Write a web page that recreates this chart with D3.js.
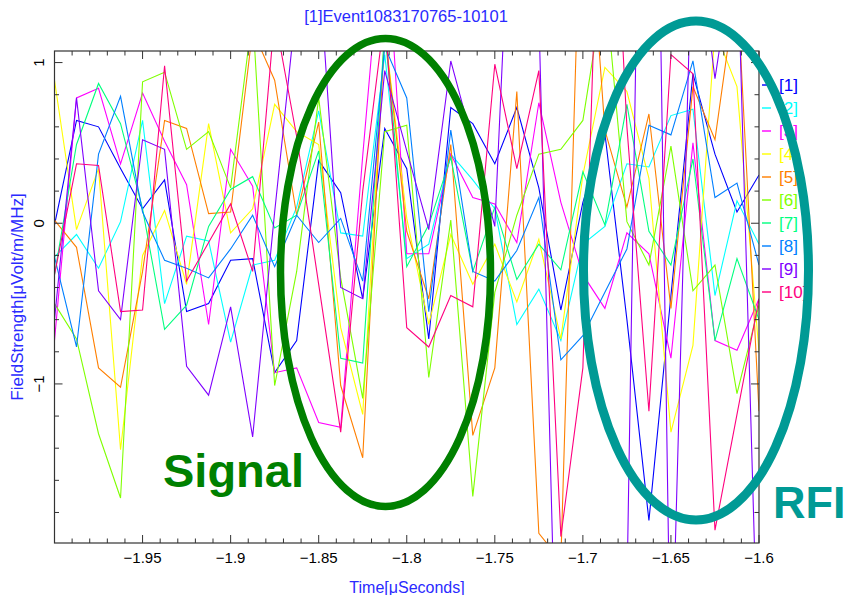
<!DOCTYPE html>
<html><head><meta charset="utf-8">
<script src="https://cdn.jsdelivr.net/npm/d3@7"></script>
<style>
body{margin:0;background:#fff}
text{font-family:"Liberation Sans", Arial, sans-serif}
</style>
</head><body>
<svg id="c" width="848" height="595"></svg>
<script>
const title = "[1]Event1083170765-10101";
const xTitle = "Time[\u03bcSeconds]";
const yTitle = "FieldStrength[\u03bcVolt/m/MHz]";
const times = [-2.0,-1.9875,-1.975,-1.9625,-1.95,-1.9375,-1.925,-1.9125,-1.9,-1.8875,-1.875,-1.8625,-1.85,-1.8375,-1.825,-1.8125,-1.8,-1.7875,-1.775,-1.7625,-1.75,-1.7375,-1.725,-1.7125,-1.7,-1.6875,-1.675,-1.6625,-1.65,-1.6375,-1.625,-1.6125,-1.6];
const s1 = [-0.01,0.64,0.60,0.34,0.09,0.27,-0.55,-0.50,-0.23,-0.22,-0.93,-0.73,0.39,0.19,-0.47,0.59,0.34,-0.72,0.72,0.62,0.37,0.72,0.22,-0.54,0.13,0.56,-0.60,-1.85,-0.45,0.93,0.43,0.07,0.30];
const s2 = [-0.21,-0.07,-0.28,0.01,0.64,-0.50,-0.08,-0.11,-0.74,-0.26,-0.23,0.10,0.70,-0.06,-0.08,1.05,-0.22,-0.13,0.43,0.27,0.09,-0.63,-0.41,-0.73,-0.13,-0.02,0.37,0.35,0.67,0.71,-0.45,0.14,-0.13];
const s3 = [-0.73,0.78,0.84,0.37,0.81,0.51,0.24,-0.63,0.46,0.23,-0.93,-0.90,-1.24,-1.27,0.42,2.0,-0.19,-0.19,0.43,0.16,0.12,-0.12,0.75,0.13,-0.32,-0.53,-0.06,-0.19,-0.84,0.50,-0.73,-0.79,-0.47];
const s4 = [0.89,-0.04,0.34,-1.41,-0.20,0.08,-0.38,0.62,-0.06,0.09,0.74,0.57,0.49,-0.65,-1.19,1.2,0.03,-0.63,-0.07,-0.38,-0.13,-0.49,-0.10,-0.72,0.30,0.97,0.82,0.28,-1.30,-0.76,1.2,0.85,-0.80];
const s5 = [0.02,-0.15,-0.90,-1.02,-0.30,0.64,0.59,0.06,0.07,1.2,0.89,0.05,0.63,-1.01,-1.46,1.2,-0.05,-0.47,0.49,-1.32,-0.90,0.82,-1.93,-2.1,2.5,0.58,0.10,0.68,-0.53,0.85,0.52,1.5,-1.17];
const s6 = [-0.50,-0.72,-1.31,-1.71,0.88,0.94,0.46,0.57,0.22,1.3,-1.01,-0.30,0.78,-0.34,-1.09,0.57,0.61,-0.96,0.02,-1.70,-0.43,0.05,0.43,0.46,0.64,1.5,0.01,-0.26,0.48,-0.42,-0.26,-1.06,-0.51];
const s7 = [-0.32,0.49,0.87,0.62,0.09,-0.66,-0.51,-0.02,0.21,0.29,-0.03,0.05,0.45,-0.84,-0.87,1.2,-0.27,-0.01,0.41,-0.30,0.10,-0.35,-0.13,-0.29,0.32,-0.01,0.74,-0.05,-0.26,0.40,-0.73,-0.22,-0.60];
const s8 = [-0.21,-0.77,0.43,0.79,0.07,-0.23,-0.28,-0.34,-0.16,0.05,-0.27,0.05,-0.12,0.03,-0.36,1.1,0.78,-0.55,0.58,-0.30,-0.36,-0.17,0.16,-0.85,-0.70,-0.43,-0.16,0.61,0.55,1.01,0.16,0.25,-0.26];
const s9 = [-0.60,0.78,-0.42,-0.60,0.52,0.46,-0.89,-1.07,-0.52,-1.33,0.07,1.38,1.63,-0.40,-0.47,0.95,0.45,-0.04,1.01,0.50,-0.02,3.0,1.3,-4.0,-3.0,-2.5,-2.3,6.0,-3.0,2.0,0.9,1.8,-3.0];
const s10 = [-0.32,0.37,0.36,-0.55,-0.54,0.98,-0.36,-0.12,0.12,-0.30,1.29,0.54,-0.38,-1.30,0.20,1.3,-0.65,-0.77,-0.45,-0.52,0.99,0.34,0.95,-1.95,-0.90,3.3,0.60,-1.17,1.05,0.93,-1.91,-1.19,-0.47];
const seriesValues = [s1,s2,s3,s4,s5,s6,s7,s8,s9,s10];
const seriesNames = ["[1]","[2]","[3]","[4]","[5]","[6]","[7]","[8]","[9]","[10]"];
const seriesColors = ["#0000ff","#00ffff","#ff00ff","#ffff00","#ff7f00","#7fff00","#00ff7f","#007fff","#7f00ff","#ff007f"];
const xTickValues = [-1.95,-1.9,-1.85,-1.8,-1.75,-1.7,-1.65,-1.6];
const xTickLabels = ["\u22121.95","\u22121.9","\u22121.85","\u22121.8","\u22121.75","\u22121.7","\u22121.65","\u22121.6"];
const yTickValues = [-1,0,1];
const yTickLabels = ["\u22121","0","1"];

const svg = d3.select("#c");
const L=54.5, R=759, T=51, B=543;
const x = d3.scaleLinear().domain([-2.0,-1.6]).range([L,R]);
const y = d3.scaleLinear().domain([-1.99,1.072]).range([B,T]);

svg.append("defs").append("clipPath").attr("id","clip")
  .append("rect").attr("x",L).attr("y",T).attr("width",R-L).attr("height",B-T);

const line = d3.line().x((d,i)=>x(times[i])).y(d=>y(d));
const g = svg.append("g").attr("clip-path","url(#clip)");
seriesValues.forEach((vals,k)=>{
  g.append("path").attr("d",line(vals)).attr("fill","none")
   .attr("stroke",seriesColors[k]).attr("stroke-width",1.1);
});

// frame
svg.append("rect").attr("x",L).attr("y",T).attr("width",R-L).attr("height",B-T)
  .attr("fill","none").attr("stroke","#333").attr("stroke-width",1.2);

const ax = svg.append("g").attr("stroke","#333").attr("stroke-width",1);
const xMinor = x.ticks(40);
xMinor.forEach(v=>{
  const major = xTickValues.some(t=>Math.abs(t-v)<1e-6);
  const len = major?8:4.5;
  const px = x(v);
  ax.append("line").attr("x1",px).attr("x2",px).attr("y1",B).attr("y2",B-len);
  ax.append("line").attr("x1",px).attr("x2",px).attr("y1",T).attr("y2",T+len);
});
const yMinor = y.ticks(15);
yMinor.forEach(v=>{
  const major = yTickValues.some(t=>Math.abs(t-v)<1e-6);
  const len = major?8:4.5;
  const py = y(v);
  ax.append("line").attr("x1",L).attr("x2",L+len).attr("y1",py).attr("y2",py);
  ax.append("line").attr("x1",R).attr("x2",R-len).attr("y1",py).attr("y2",py);
});

xTickValues.forEach((v,i)=>{
  svg.append("text").attr("x",x(v)).attr("y",563).attr("text-anchor","middle")
    .attr("font-size",15).attr("fill","#000").text(xTickLabels[i]);
});
yTickValues.forEach((v,i)=>{
  svg.append("text").attr("transform",`translate(44,${y(v)}) rotate(-90)`)
    .attr("text-anchor","middle").attr("font-size",15).attr("fill","#000").text(yTickLabels[i]);
});

svg.append("text").attr("x",406).attr("y",22).attr("text-anchor","middle")
  .attr("font-size",16.5).attr("fill","#2a2aff").text(title);
svg.append("text").attr("x",407).attr("y",593).attr("text-anchor","middle")
  .attr("font-size",16).attr("fill","#2a2aff").text(xTitle);
svg.append("text").attr("transform","translate(23,297) rotate(-90)")
  .attr("text-anchor","middle").attr("font-size",17).attr("fill","#2a2aff").text(yTitle);

seriesNames.forEach((n,i)=>{
  const yy = 85 + 23*i;
  svg.append("line").attr("x1",762).attr("x2",771).attr("y1",yy).attr("y2",yy)
    .attr("stroke",seriesColors[i]).attr("stroke-width",2).attr("opacity",0.7);
  svg.append("text").attr("x",779).attr("y",yy).attr("dy","0.36em")
    .attr("font-size",17).attr("fill",seriesColors[i]).text(n);
});

svg.append("ellipse").attr("cx",385.5).attr("cy",272.5).attr("rx",105).attr("ry",234)
  .attr("fill","none").attr("stroke","#008000").attr("stroke-width",7.5);
svg.append("ellipse").attr("cx",696).attr("cy",270.5).attr("rx",112.5).attr("ry",249.5)
  .attr("fill","none").attr("stroke","#009a95").attr("stroke-width",9);
svg.append("text").attr("x",163).attr("y",487).attr("font-size",47).attr("font-weight","bold")
  .attr("fill","#008000").text("Signal");
svg.append("text").attr("x",773).attr("y",518).attr("font-size",45).attr("font-weight","bold")
  .attr("fill","#009a95").text("RFI");
</script>
</body></html>
